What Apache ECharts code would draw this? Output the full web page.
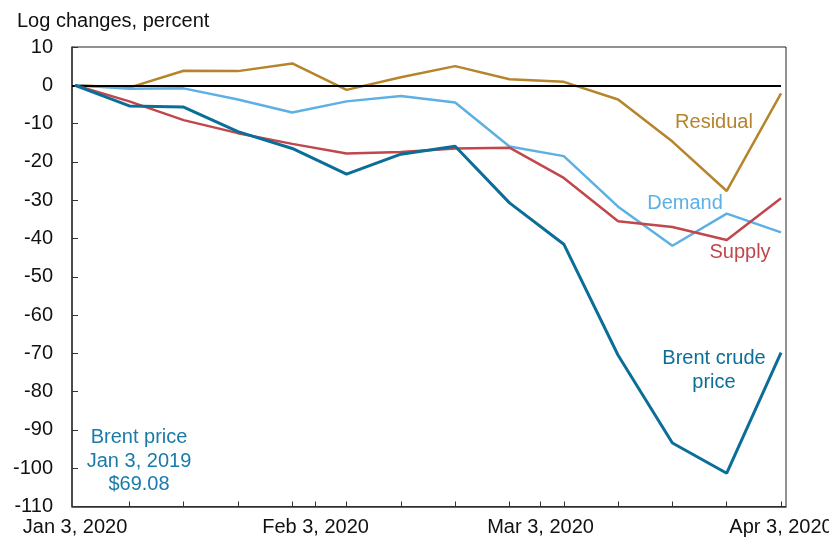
<!DOCTYPE html>
<html>
<head>
<meta charset="utf-8">
<script src="https://cdn.jsdelivr.net/npm/echarts@6/dist/echarts.min.js"></script>
<style>
html,body{margin:0;padding:0;background:#fff;}
#chart{width:829px;height:541px;}
</style>
</head>
<body>
<div id="chart"></div>
<script>
// ---- data ----
const dates = ['2020-01-03','2020-01-10','2020-01-17','2020-01-24','2020-01-31','2020-02-07','2020-02-14',
               '2020-02-21','2020-02-28','2020-03-06','2020-03-13','2020-03-20','2020-03-27','2020-04-03'];
const brent    = [0, -5.4, -5.7, -12.1, -16.5, -23.2, -18.0, -15.9, -30.7, -41.5, -70.5, -93.4, -101.3, -69.8];
const supply   = [0, -4.2, -9.1, -12.5, -15.3, -17.8, -17.4, -16.5, -16.3, -24.2, -35.5, -37.0, -40.4, -29.5];
const demand   = [0, -0.9, -0.8, -3.7, -7.1, -4.2, -2.8, -4.5, -16.0, -18.5, -31.7, -41.9, -33.5, -38.4];
const residual = [0, -0.6, 3.8, 3.7, 5.7, -1.2, 2.1, 5.0, 1.6, 0.9, -3.7, -14.7, -27.6, -2.1];
const labelDates = ['2020-01-03','2020-02-03','2020-03-03','2020-04-03'];
const tickLabels = ['Jan 3, 2020','Feb 3, 2020','Mar 3, 2020','Apr 3, 2020'];
const yTicks = { min: -110, max: 10, interval: 10 };

// ---- helpers ----
const DAY = 86400000;
const t0 = Date.parse(dates[0]);
const dayOf = d => Math.round((Date.parse(d) - t0) / DAY);
const xs = dates.map(dayOf);
const labelDays = labelDates.map(dayOf);
const pairs = arr => arr.map((v, i) => [xs[i], v]);
const weeklyTicks = xs.slice(1);
const tickDays = weeklyTicks.concat(labelDays.slice(1, 3));

const C = { brent: '#0b6e99', demand: '#5cb0e4', supply: '#c0474b', residual: '#b5842b' };
const FONT = '"Liberation Sans", Arial, sans-serif';

const chart = echarts.init(document.getElementById('chart'), null, { renderer: 'canvas' });
chart.setOption({
  animation: false,
  backgroundColor: '#fff',
  textStyle: { fontFamily: FONT },
  title: {
    text: 'Log changes, percent', left: 12, top: 6,
    textStyle: { fontFamily: FONT, fontSize: 20, fontWeight: 'normal', color: '#111' }
  },
  grid: { left: 72, right: 43, top: 47, bottom: 34.5, show: true, borderColor: '#222', borderWidth: 1,
          containLabel: false, outerBoundsMode: 'none' },
  xAxis: {
    type: 'value', min: -0.39, max: 91.64,
    splitLine: { show: false },
    axisLine: { show: true, onZero: false, lineStyle: { color: '#333', width: 1.5 } },
    axisTick: { show: true, inside: true, length: 5, customValues: tickDays, lineStyle: { color: '#333', width: 1 } },
    axisLabel: {
      customValues: labelDays, margin: 11, fontSize: 20, color: '#111', fontFamily: FONT,
      hideOverlap: false,
      formatter: v => { const i = labelDays.indexOf(Math.round(v)); return i >= 0 ? tickLabels[i] : ''; }
    }
  },
  yAxis: {
    type: 'value', min: yTicks.min, max: yTicks.max, interval: yTicks.interval,
    splitLine: { show: false },
    axisLine: { show: true, onZero: false, lineStyle: { color: '#333', width: 1.5 } },
    axisTick: { show: true, inside: true, length: 6, lineStyle: { color: '#333', width: 1 } },
    axisLabel: { fontSize: 20, color: '#111', margin: 19, fontFamily: FONT }
  },
  series: [
    {
      name: 'Residual', type: 'line', data: pairs(residual), symbol: 'none',
      lineStyle: { color: C.residual, width: 2.5 }, z: 3,
      markLine: {
        silent: true, symbol: 'none', label: { show: false },
        lineStyle: { color: '#000', width: 1.8, type: 'solid' },
        data: [[{ coord: [-0.39, 0] }, { coord: [xs[xs.length - 1], 0] }]]
      }
    },
    { name: 'Demand', type: 'line', data: pairs(demand), symbol: 'none', lineStyle: { color: C.demand, width: 2.5 }, z: 4 },
    { name: 'Supply', type: 'line', data: pairs(supply), symbol: 'none', lineStyle: { color: C.supply, width: 2.5 }, z: 5 },
    { name: 'Brent crude price', type: 'line', data: pairs(brent), symbol: 'none', lineStyle: { color: C.brent, width: 3 }, z: 6 }
  ],
  graphic: [
    { type: 'text', x: 714, y: 122, style: { text: 'Residual', fill: C.residual, font: '20px ' + FONT, textAlign: 'center', textVerticalAlign: 'middle' } },
    { type: 'text', x: 685, y: 203, style: { text: 'Demand', fill: C.demand, font: '20px ' + FONT, textAlign: 'center', textVerticalAlign: 'middle' } },
    { type: 'text', x: 740, y: 252, style: { text: 'Supply', fill: C.supply, font: '20px ' + FONT, textAlign: 'center', textVerticalAlign: 'middle' } },
    { type: 'text', x: 714, y: 370, style: { text: 'Brent crude\nprice', fill: C.brent, font: '20px ' + FONT, lineHeight: 24, textAlign: 'center', textVerticalAlign: 'middle' } },
    { type: 'text', x: 139, y: 461, style: { text: 'Brent price\nJan 3, 2019\n$69.08', fill: '#1a7bab', font: '20px ' + FONT, lineHeight: 23.5, textAlign: 'center', textVerticalAlign: 'middle' } }
  ]
});
</script>
</body>
</html>
